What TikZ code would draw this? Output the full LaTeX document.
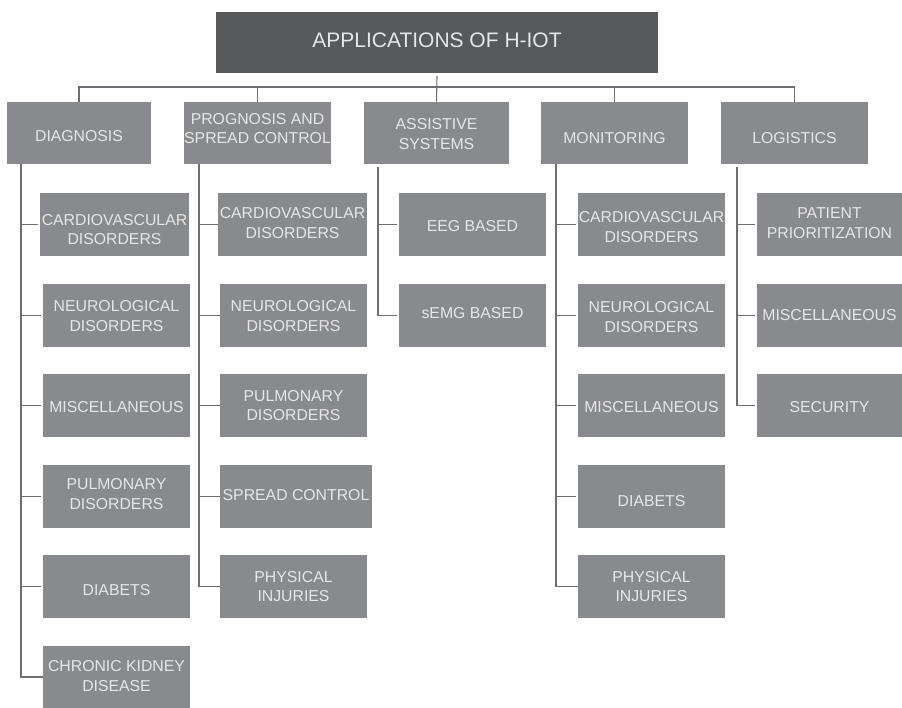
\documentclass[tikz,border=0pt]{standalone}
\usepackage{fontspec}
\setmainfont{Liberation Sans}
\definecolor{titlegray}{HTML}{58595B}
\definecolor{boxgray}{HTML}{898A8D}
\definecolor{labelgray}{HTML}{E6E6E6}
\definecolor{linegray}{HTML}{6D6E71}
\tikzset{
  box/.style={rectangle, fill=boxgray, inner sep=0pt},
  headbox/.style={rectangle, fill=titlegray, inner sep=0pt},
  tag/.style={text=labelgray, inner sep=0pt, align=center,
    font=\fontsize{15.8}{19.5}\selectfont},
  headtag/.style={text=labelgray, inner sep=0pt, align=center,
    font=\fontsize{21}{25}\selectfont},
  link/.style={draw=linegray, line width=1.1pt},
}
% \boxitem{name}{x}{y}{width}{height}{text drop}{text}
\newcommand\boxitem[7]{%
  \node[box, minimum width=#4pt, minimum height=#5pt] (#1) at (#2,#3) {};
  \node[tag] (#1-txt) at ([yshift=-#6pt]#1.center) {#7};}
\begin{document}
\begin{tikzpicture}[x=1pt, y=-1pt]
\useasboundingbox (0,0) rectangle (902,707);

% root
\node[headbox, minimum width=442pt, minimum height=61pt] (root) at (437,42.5) {};
\node[headtag] (root-txt) at ([yshift=2pt]root.center) {APPLICATIONS OF H-IOT};

% first level
\boxitem{diag}{79}{132.7}{144}{62}{3.5}{DIAGNOSIS}
\boxitem{prog}{257.5}{132.7}{147}{62}{-4}{PROGNOSIS AND\\SPREAD CONTROL}
\boxitem{assist}{436.5}{132.7}{145}{62}{1.5}{ASSISTIVE\\SYSTEMS}
\boxitem{monit}{614.5}{132.7}{147}{62}{5}{MONITORING}
\boxitem{logi}{794.5}{132.7}{147}{62}{5}{LOGISTICS}

% diagnosis
\boxitem{d1}{114.5}{224.5}{149}{63}{5}{CARDIOVASCULAR\\DISORDERS}
\boxitem{d2}{116.5}{315.5}{147}{63}{0.5}{NEUROLOGICAL\\DISORDERS}
\boxitem{d3}{116.5}{405.5}{147}{63}{2}{MISCELLANEOUS}
\boxitem{d4}{116.5}{496.5}{147}{63}{-2.5}{PULMONARY\\DISORDERS}
\boxitem{d5}{116.5}{586.5}{147}{63}{4}{DIABETS}
\boxitem{d6}{116.5}{677}{147}{62}{-1}{CHRONIC KIDNEY\\DISEASE}

% prognosis and spread control
\boxitem{p1}{292.5}{224.5}{149}{63}{-1.5}{CARDIOVASCULAR\\DISORDERS}
\boxitem{p2}{293.5}{315.5}{147}{63}{0.5}{NEUROLOGICAL\\DISORDERS}
\boxitem{p3}{293.5}{405.5}{147}{63}{0}{PULMONARY\\DISORDERS}
\boxitem{p4}{296}{496.5}{152}{63}{-1}{SPREAD CONTROL}
\boxitem{p5}{293.5}{586.5}{147}{63}{0}{PHYSICAL\\INJURIES}

% assistive systems
\boxitem{a1}{472.5}{224.5}{147}{63}{1.5}{EEG BASED}
\boxitem{a2}{472.5}{315.5}{147}{63}{-2.5}{sEMG BASED}

% monitoring
\boxitem{m1}{651.5}{224.5}{147}{63}{2.5}{CARDIOVASCULAR\\DISORDERS}
\boxitem{m2}{651.5}{315.5}{147}{63}{1.5}{NEUROLOGICAL\\DISORDERS}
\boxitem{m3}{651.5}{405.5}{147}{63}{2}{MISCELLANEOUS}
\boxitem{m4}{651.5}{496.5}{147}{63}{5}{DIABETS}
\boxitem{m5}{651.5}{586.5}{147}{63}{0}{PHYSICAL\\INJURIES}

% logistics
\boxitem{l1}{829.5}{224.5}{145}{63}{-1.5}{PATIENT\\PRIORITIZATION}
\boxitem{l2}{829.5}{315.5}{145}{63}{0}{MISCELLANEOUS}
\boxitem{l3}{829.5}{405.5}{145}{63}{2}{SECURITY}

% top bus
\coordinate (bus) at (437,87);
\draw[link] (root.south) ++(0,3) -- (assist.north);
\draw[link] (diag.north) |- (bus) -| (logi.north);
\draw[link] (prog.north) -- (prog.north |- bus);
\draw[link] (monit.north) -- (monit.north |- bus);

% trunks from each category
\coordinate (dt) at (21,164);
\coordinate (pt) at (199,164);
\coordinate (at) at (378,167);
\coordinate (mt) at (556,164);
\coordinate (lt) at (737,167);

\draw[link] (dt) |- (d6.west);
\foreach \c in {d1,d2,d3,d4,d5}
  \draw[link] (dt |- \c.west) -- ([xshift=-2pt]\c.west);

\draw[link] (pt) |- (p5.west);
\foreach \c in {p1,p2,p3,p4}
  \draw[link] (pt |- \c.west) -- (\c.west);

\draw[link] (at) |- ([xshift=-2pt]a2.west);
\draw[link] (at |- a1.west) -- ([xshift=-2pt]a1.west);

\draw[link] (mt) |- (m5.west);
\foreach \c in {m1,m2,m3,m4}
  \draw[link] (mt |- \c.west) -- ([xshift=-2pt]\c.west);

\draw[link] (lt) |- ([xshift=-2pt]l3.west);
\foreach \c in {l1,l2}
  \draw[link] (lt |- \c.west) -- ([xshift=-2pt]\c.west);
\end{tikzpicture}
\end{document}
